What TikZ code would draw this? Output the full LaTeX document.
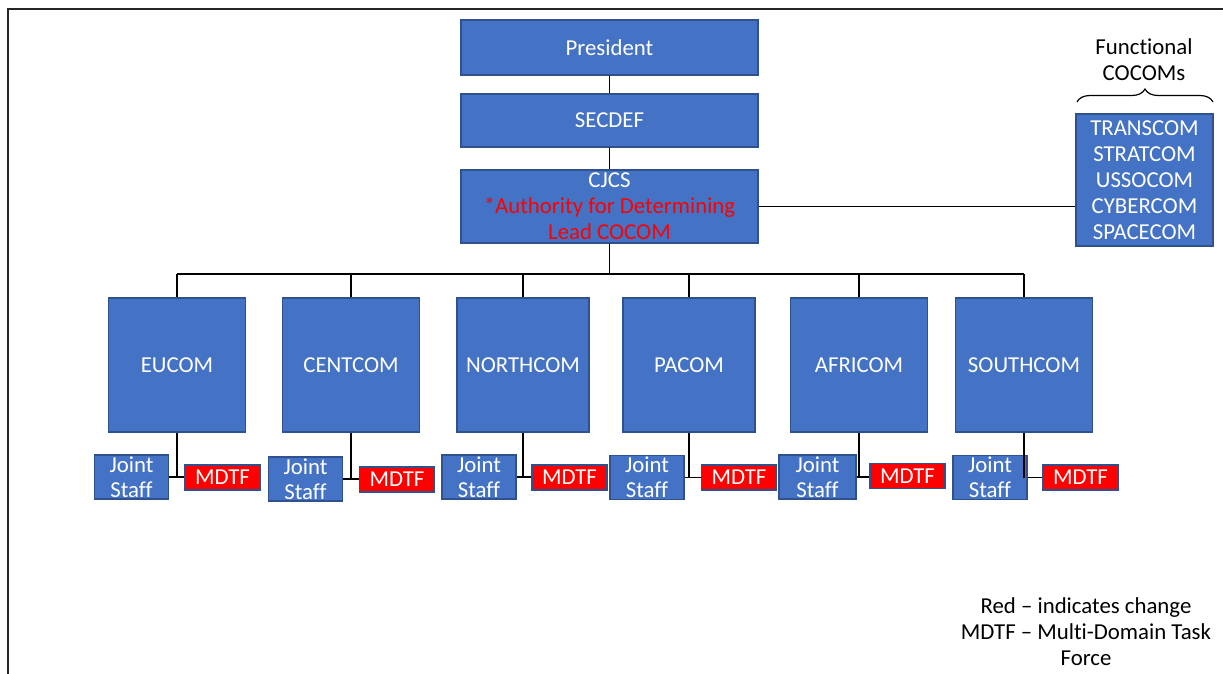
\documentclass[tikz,border=0pt]{standalone}
\usepackage{fontspec}
\setmainfont[Ligatures={NoCommon,NoRare}]{Carlito}
\usetikzlibrary{decorations.pathreplacing}
\definecolor{boxc}{HTML}{4472C4}
\definecolor{bordc}{HTML}{2F528F}
\definecolor{redc}{HTML}{FF0000}
\begin{document}
\begin{tikzpicture}[x=0.5pt,y=-0.5pt,
  txt/.style={font=\fontsize{11.4}{13}\selectfont},
  blk/.style={txt,draw=bordc,fill=boxc,text=white,inner sep=0pt,line width=0.6pt,align=center},
  topbox/.style={blk,minimum width=148.5pt},
  cmdbox/.style={blk,minimum width=68.5pt,minimum height=67pt},
  jsbox/.style={blk,minimum width=37pt,minimum height=22pt,font=\fontsize{11.4}{12.5}\selectfont},
  mdtfbox/.style={blk,fill=redc,minimum width=37.5pt,minimum height=12.5pt},
  conn/.style={line width=0.6pt,black}]
\useasboundingbox (0,0) rectangle (1223,674);
\fill[white] (0,0) rectangle (1223,674);
\draw[line width=0.8pt,black!85] (8,674) -- (8,9) -- (1223,9);

\node[topbox,minimum height=27.5pt] (pres) at (609.5,47.5) {President};
\node[topbox,minimum height=26.5pt] (secdef) at (609.5,120.5) {SECDEF};
\node[topbox,minimum height=36.5pt] (cjcs) at (609.5,206.5) {CJCS\\\textcolor{redc}{*Authority for Determining}\\\textcolor{redc}{Lead COCOM}};
\node[blk,minimum width=68.5pt,minimum height=66pt] (func) at (1144.5,180) {TRANSCOM\\STRATCOM\\USSOCOM\\CYBERCOM\\SPACECOM};
\node[txt,align=center,inner sep=0pt] (funclab) at (1144,60) {Functional\\COCOMs};
\coordinate (brl) at (1077,102);
\coordinate (brr) at (1213,102);
\draw[conn,decorate,decoration={brace,amplitude=6.5pt}] (brl) -- (brr);

\draw[conn] (pres) -- (secdef);
\draw[conn] (secdef) -- (cjcs);
\draw[conn] (cjcs.east) -- (cjcs.east -| func.west);

\node[cmdbox] (eu) at (177,365) {EUCOM};
\node[cmdbox] (cent) at (351,365) {CENTCOM};
\node[cmdbox,minimum width=66pt] (north) at (523,365) {NORTHCOM};
\node[cmdbox,minimum width=66pt] (pac) at (689,365) {PACOM};
\node[cmdbox] (afri) at (859,365) {AFRICOM};
\node[cmdbox] (south) at (1024,365) {SOUTHCOM};

\coordinate (bus) at (609.5,274);
\draw[conn] (cjcs.south) -- (bus);
\draw[conn] (eu.north |- bus) -- (south.north |- bus);
\foreach \c in {eu,cent,north,pac,afri,south}{
  \draw[conn] (\c.north |- bus) -- (\c.north);
}

\node[jsbox] (jseu) at (131.5,477) {Joint\\Staff};
\node[mdtfbox] (mdeu) at (222.5,477.5) {MDTF};
\node[jsbox] (jscent) at (305.5,479) {Joint\\Staff};
\node[mdtfbox] (mdcent) at (397,479.5) {MDTF};
\node[jsbox] (jsnorth) at (479,477) {Joint\\Staff};
\node[mdtfbox] (mdnorth) at (569.5,477.5) {MDTF};
\node[jsbox] (jspac) at (647,477.5) {Joint\\Staff};
\node[mdtfbox] (mdpac) at (739,477.5) {MDTF};
\node[jsbox,minimum width=38.5pt] (jsafri) at (817.5,477) {Joint\\Staff};
\node[mdtfbox] (mdafri) at (907.5,476) {MDTF};
\node[jsbox] (jssouth) at (990,477.5) {Joint\\Staff};
\node[mdtfbox] (mdsouth) at (1080.5,477.5) {MDTF};

\foreach \c/\j/\m in {eu/jseu/mdeu,cent/jscent/mdcent,north/jsnorth/mdnorth,pac/jspac/mdpac,afri/jsafri/mdafri,south/jssouth/mdsouth}{
  \draw[conn] (\c.south) -- (\c.south |- \j.east);
  \draw[conn] (\j.east) -- (\j.east -| \m.west);
}

\node[txt,align=center,inner sep=0pt] (legend) at (1086,632) {Red -- indicates change\\MDTF -- Multi-Domain Task\\Force};
\end{tikzpicture}
\end{document}
